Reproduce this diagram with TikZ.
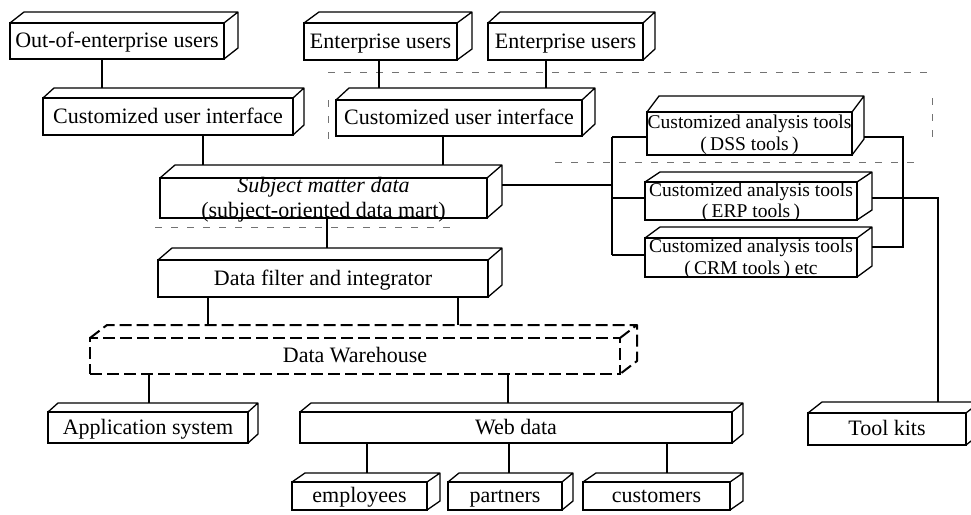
\documentclass[tikz,border=0pt]{standalone}
\usepackage{fontspec}
\setmainfont{Liberation Serif}
\usetikzlibrary{calc}
\tikzset{
  facest/.style={draw, line width=1.3pt, rectangle, inner sep=0pt, outer sep=0pt},
  txtst/.style={inner sep=0pt, align=center, yshift=-1.5pt, font=\fontsize{22}{25}\selectfont},
  edgest/.style={line width=1.3pt, line join=round},
  link/.style={line width=1.3pt},
  ghost/.style={line width=0.8pt, black!55, dash pattern=on 7pt off 9pt},
  dwst/.style={line width=2pt, dash pattern=on 12pt off 5pt},
  toolfont/.style={font=\fontsize{19.5}{21.5}\selectfont},
}
% #1 name, #2 x1, #3 y1, #4 x2, #5 y2, #6 dx, #7 dy, #8 style, #9 text
\newcommand\cubebox[9]{%
  \node[facest,#8,minimum width={(#4-#2)*1pt},minimum height={(#5-#3)*1pt}] (#1) at ({(#2+#4)/2},{(#3+#5)/2}) {};
  \node[txtst,#8,draw=none] (#1-t) at (#1.center) {\strut #9\strut};
  \draw[edgest,#8] (#1.north west) -- ++(#6,-#7) -- ([shift={(#6,-#7)}]#1.north east) coordinate (#1-b)
     -- ([shift={(#6,-#7)}]#1.south east) -- (#1.south east)
     (#1.north east) -- (#1-b);
}
\begin{document}
\begin{tikzpicture}[x=1pt,y=-1pt]
\useasboundingbox[fill=white] (0,0) rectangle (971,514);

% faint dashed traces
\draw[ghost] (328,72) -- (932,72);
\draw[ghost] (328,100) -- (328,146);
\draw[ghost] (932,98) -- (932,140);
\draw[ghost] (555,162) -- (920,162);
\draw[ghost] (155,227) -- (455,227);

\cubebox{oeu}{10}{23}{224}{59}{14}{11}{}{Out-of-enterprise users}
\cubebox{cuil}{43}{98}{293}{135}{11}{10}{}{Customized user interface}
\cubebox{eua}{304}{23}{457}{60}{15}{11}{}{Enterprise users}
\cubebox{eub}{488}{23}{643}{60}{12}{11}{}{Enterprise users}
\cubebox{cuim}{336}{100}{582}{136}{13}{12}{}{Customized user interface}
\cubebox{sm}{160}{178}{487}{218}{15}{13}{}{{\itshape Subject matter data}\\(subject-oriented data mart)}
\cubebox{dss}{647}{112}{852}{155}{12}{16}{toolfont}{Customized analysis tools\\(\,DSS tools\,)}
\cubebox{erp}{645}{182}{857}{220}{15}{10}{toolfont}{Customized analysis tools\\(\,ERP tools\,)}
\cubebox{crm}{645}{238}{857}{277}{15}{11}{toolfont}{Customized analysis tools\\(\,CRM tools\,) etc}
\cubebox{df}{158}{260}{488}{297}{14}{12}{}{Data filter and integrator}
\cubebox{dw}{90}{338}{620}{374}{17}{13}{dwst}{Data Warehouse}
\cubebox{app}{48}{412}{248}{443}{10}{9}{}{Application system}
\cubebox{web}{300}{412}{732}{443}{11}{9}{}{Web data}
\cubebox{emp}{292}{482}{427}{510}{13}{9}{}{employees}
\cubebox{part}{448}{482}{562}{510}{11}{9}{}{partners}
\cubebox{cust}{583}{482}{730}{510}{13}{9}{}{customers}
\cubebox{tool}{808}{413}{966}{445}{14}{11}{}{Tool kits}

% connectors
\draw[link] (oeu.south -| 102,0) -- (cuil-b -| 102,0);
\draw[link] (eua.south -| 379,0) -- (cuim-b -| 379,0);
\draw[link] (eub.south -| 546,0) -- (cuim-b -| 546,0);
\draw[link] (cuil.south -| 203,0) -- (sm-b -| 203,0);
\draw[link] (cuim.south -| 443,0) -- (sm-b -| 443,0);

\coordinate (jl) at (612,185);
\coordinate (jltop) at (612,137);
\coordinate (jlmid) at (612,198);
\coordinate (jlbot) at (612,255);
\draw[link] (sm-b |- jl) -- (jl);
\draw[link] (jltop) -- (jlbot);
\draw[link] (jltop) -- (dss.west |- jltop);
\draw[link] (jlmid) -- (erp.west |- jlmid);
\draw[link] (jlbot) -- (crm.west |- jlbot);

\coordinate (jra) at (903,137);
\coordinate (jrb) at (903,247);
\coordinate (jtk) at (938,198);
\draw[link] (dss-b |- jra) -- (jra) -- (jrb) -- (crm-b |- jrb);
\draw[link] (erp-b |- jtk) -- (jtk) -- (jtk |- tool-b);

\draw[link] (sm.south -| 327,0) -- (df-b -| 327,0);
\draw[link] (df.south -| 208,0) -- (dw-b -| 208,0);
\draw[link] (df.south -| 458,0) -- (dw-b -| 458,0);
\draw[link] (dw.south -| 149,0) -- (app-b -| 149,0);
\draw[link] (dw.south -| 508,0) -- (web-b -| 508,0);
\draw[link] (web.south -| 367,0) -- (emp-b -| 367,0);
\draw[link] (web.south -| 509,0) -- (part-b -| 509,0);
\draw[link] (web.south -| 667,0) -- (cust-b -| 667,0);
\end{tikzpicture}
\end{document}
